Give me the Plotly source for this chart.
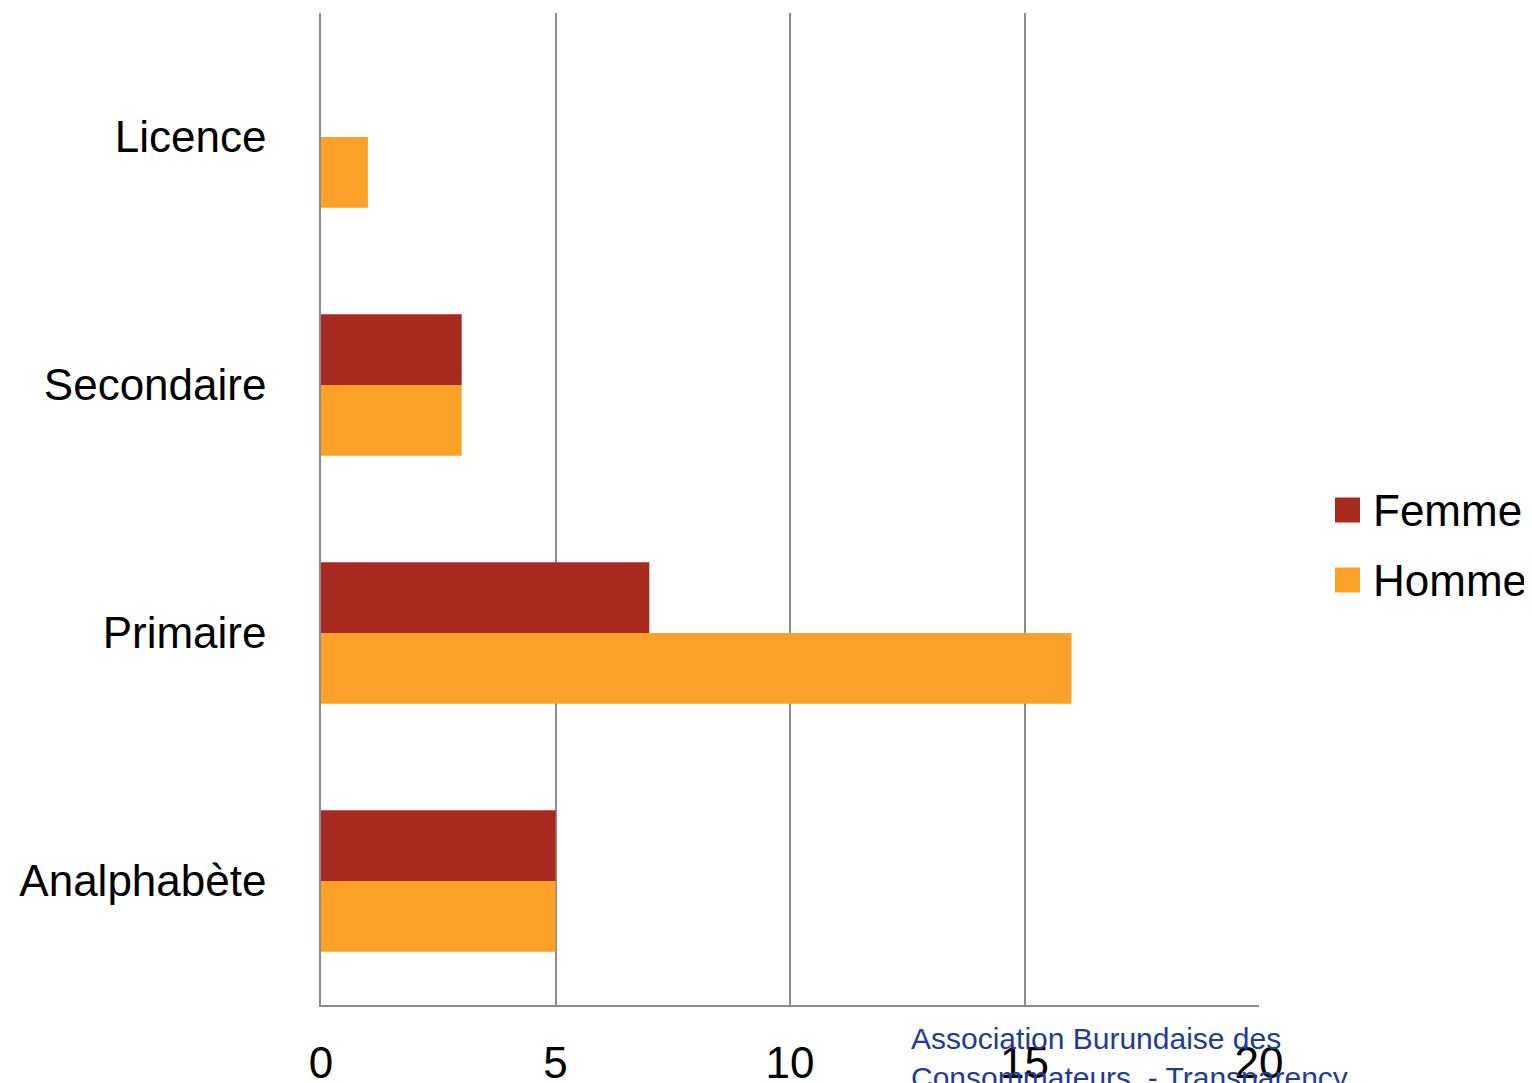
import plotly.graph_objects as go

categories = ["Analphabète", "Primaire", "Secondaire", "Licence"]
femme = [5, 7, 3, 0]
homme = [5, 16, 3, 1]
x_ticks = [0, 5, 10, 15, 20]
series_names = ["Femme", "Homme"]
series_colors = ["#A82A1F", "#FDA128"]

FONT = "Liberation Sans, Arial, sans-serif"

fig = go.Figure()
fig.add_trace(go.Bar(y=categories, x=homme, orientation="h", name="Homme",
                     marker=dict(color=series_colors[1], line=dict(width=0)),
                     showlegend=False))
fig.add_trace(go.Bar(y=categories, x=femme, orientation="h", name="Femme",
                     marker=dict(color=series_colors[0], line=dict(width=0)),
                     showlegend=False))

OFF = 8  # page body margin offset
W, H = 1532, 1083
L, T = 321 - OFF, 13 - OFF
pw, ph = 938, 992
R, B = W - L - pw, H - T - ph

fig.update_layout(
    width=W, height=H,
    margin=dict(l=L, r=R, t=T, b=B, autoexpand=False),
    paper_bgcolor="white", plot_bgcolor="white",
    barmode="group", bargap=0.43, bargroupgap=0,
    font=dict(family=FONT, color="black", size=44),
    showlegend=False,
)
fig.update_xaxes(range=[0, 20], tickvals=x_ticks, showgrid=True,
                 gridcolor="#8C8C8C", gridwidth=1.5, zeroline=False,
                 showline=True, linecolor="#8C8C8C", linewidth=1.5,
                 ticks="", ticklabelstandoff=18, tickfont=dict(size=44))
fig.update_yaxes(categoryorder="array", categoryarray=categories,
                 showline=True, linecolor="#8C8C8C", linewidth=1.5,
                 ticks="", ticklabelstandoff=44, tickfont=dict(size=44),
                 showgrid=False)

# Legend (drawn manually to match large square swatches)
def px_x(sx):
    return (sx - OFF - L) / pw

def px_y(sy):
    return (T + ph - (sy - OFF)) / ph

leg_sw = 25 / pw
for i, (name, col) in enumerate(zip(series_names, series_colors)):
    cy = px_y(510 + 70 * i)
    half = 12.5 / ph
    fig.add_shape(type="rect", xref="paper", yref="paper",
                  x0=px_x(1335), x1=px_x(1335) + leg_sw, y0=cy - half, y1=cy + half,
                  fillcolor=col, line=dict(width=0))
    fig.add_annotation(text=name, xref="paper", yref="paper",
                       x=px_x(1371), y=cy, xanchor="left", yanchor="middle",
                       showarrow=False, font=dict(size=44, color="black", family=FONT))

fig.add_annotation(text="Association Burundaise des<br>Consommateurs  - Transparency",
                   xref="paper", yref="paper", x=px_x(909), y=-0.015,
                   xanchor="left", yanchor="top", showarrow=False, align="left",
                   font=dict(size=30, color="#1E3C96", family=FONT))

fig.write_html("out.html")
